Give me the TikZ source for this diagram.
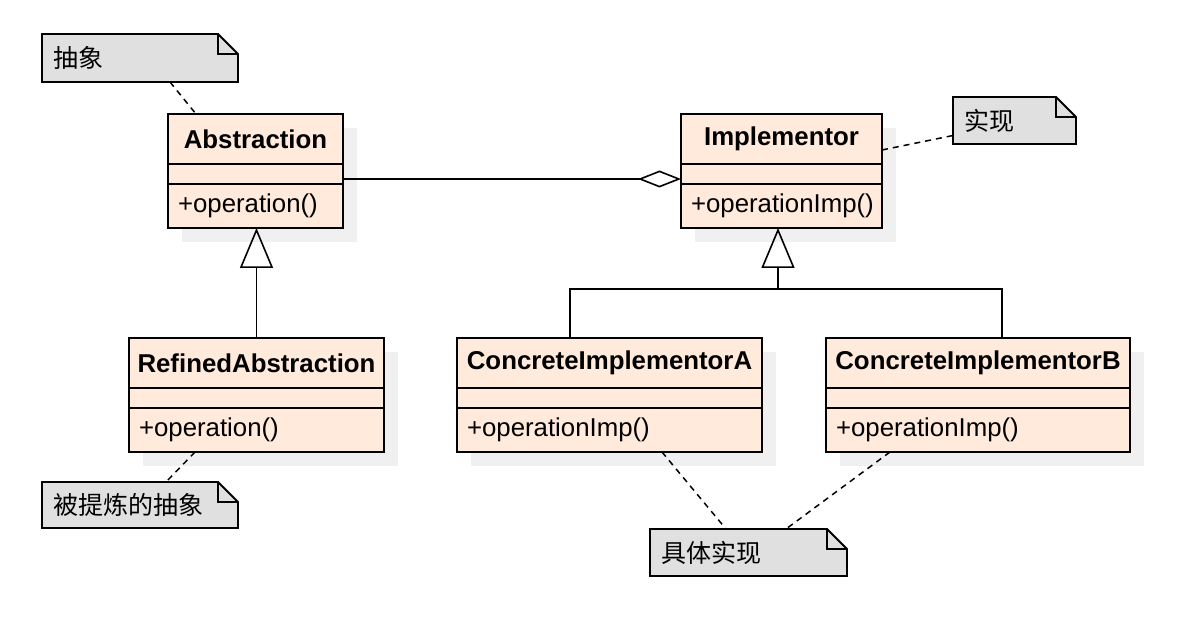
\documentclass[tikz,border=0pt]{standalone}
\usepackage{fontspec}
\setmainfont{Liberation Sans}
\newfontfamily\cjk{Noto Sans CJK SC}
\usetikzlibrary{positioning,arrows.meta,backgrounds}
\definecolor{clsfill}{HTML}{FFEADB}
\definecolor{notefill}{HTML}{E0E0E0}
\definecolor{shadowgray}{HTML}{F0F0F0}
\tikzset{
  umlbox/.style={draw, line width=1.8pt, fill=clsfill, inner sep=0pt, outer sep=0pt},
  umlhead/.style={umlbox, minimum height=50pt, font=\fontsize{25.8}{30}\selectfont\bfseries},
  umlmid/.style={umlbox, minimum height=20pt},
  umlops/.style={umlbox, minimum height=44pt, inner xsep=10pt, align=left, font=\fontsize{25.8}{30}\selectfont},
  umlshadow/.style={fill=shadowgray},
  notebox/.style={inner xsep=11pt, inner ysep=0pt, outer sep=0pt, minimum height=47pt, align=left, font=\cjk\fontsize{25}{29}\selectfont},
  noteshape/.style={draw, line width=1.8pt, fill=notefill, line join=miter},
  notelink/.style={line width=1.5pt, dash pattern=on 6pt off 5pt},
  link/.style={line width=1.6pt},
  inherit/.style={link, -{Triangle[open, length=40pt, width=33pt]}},
  aggr/.style={link, -{Diamond[open, length=43pt, width=17pt]}}
}

\begin{document}
\begin{tikzpicture}[x=1pt, y=-1pt]
  \useasboundingbox (0,0) rectangle (1188,644);
  % classes
  \node[umlhead, minimum width=175pt] (abs) at (255.5,139) {Abstraction};
  \node[umlmid, minimum width=175pt, below=0pt of abs] (absmid) {};
  \node[umlops, text width=155pt, below=0pt of absmid] (absops) {+operation()};
  \node[umlhead, minimum width=201pt] (imp) at (781.5,139) {Implementor};
  \node[umlmid, minimum width=201pt, below=0pt of imp] (impmid) {};
  \node[umlops, text width=181pt, below=0pt of impmid] (impops) {+operationImp()};
  \node[umlhead, minimum width=255pt] (ref) at (256.5,363) {RefinedAbstraction};
  \node[umlmid, minimum width=255pt, below=0pt of ref] (refmid) {};
  \node[umlops, text width=235pt, below=0pt of refmid] (refops) {+operation()};
  \node[umlhead, minimum width=305pt] (cia) at (609.5,363) {ConcreteImplementorA};
  \node[umlmid, minimum width=305pt, below=0pt of cia] (ciamid) {};
  \node[umlops, text width=285pt, below=0pt of ciamid] (ciaops) {+operationImp()};
  \node[umlhead, minimum width=304pt] (cib) at (978,363) {ConcreteImplementorB};
  \node[umlmid, minimum width=304pt, below=0pt of cib] (cibmid) {};
  \node[umlops, text width=284pt, below=0pt of cibmid] (cibops) {+operationImp()};
  % notes
  \node[notebox, text width=174pt, minimum height=48pt] (nabs) at (140,58) {抽象};
  \node[notebox, text width=101pt] (nimp) at (1014.5,120.5) {实现};
  \node[notebox, text width=174pt, minimum height=46pt] (nref) at (140,505) {被提炼的抽象};
  \node[notebox, text width=175pt] (ncon) at (748.5,552.5) {具体实现};
  \begin{scope}[on background layer]
    \foreach \cls in {abs,imp,ref,cia,cib}
      \fill[umlshadow] ([shift={(14,14)}]\cls.north west) rectangle ([shift={(14,14)}]\cls ops.south east);
    \foreach \n in {nabs,nimp,nref,ncon} {
      \draw[noteshape] (\n.south west) -- (\n.north west) -- ([xshift=-20pt]\n.north east)
        -- ([yshift=-20pt]\n.north east) -- (\n.south east) -- cycle;
      \draw[noteshape, fill=none] ([xshift=-20pt]\n.north east) |- ([yshift=-20pt]\n.north east);
    }
  \end{scope}
  % relations
  \draw[aggr] ([yshift=-5pt]absmid.east) -- ([yshift=-5pt]impmid.west);
  \draw[inherit] (ref.north) -- (ref.north |- absops.south);
  \coordinate (fork) at (778,289);
  \draw[inherit] (fork) -- (fork |- impops.south);
  \draw[link] ([xshift=-39.5pt]cia.north) |- (fork) -| ([xshift=24pt]cib.north);
  % note links
  \draw[notelink] ([xshift=128pt]nabs.south west) -- ([xshift=28pt]abs.north west);
  \draw[notelink] ([yshift=-11pt]imp.east) -- ([yshift=-15pt]nimp.west);
  \draw[notelink] ([xshift=66pt]refops.south west) -- ([xshift=124pt]nref.north west);
  \draw[notelink] ([xshift=205pt]ciaops.south west) -- ([xshift=76pt]ncon.north west);
  \draw[notelink] ([xshift=64pt]cibops.south west) -- ([xshift=136pt]ncon.north west);
\end{tikzpicture}
\end{document}
